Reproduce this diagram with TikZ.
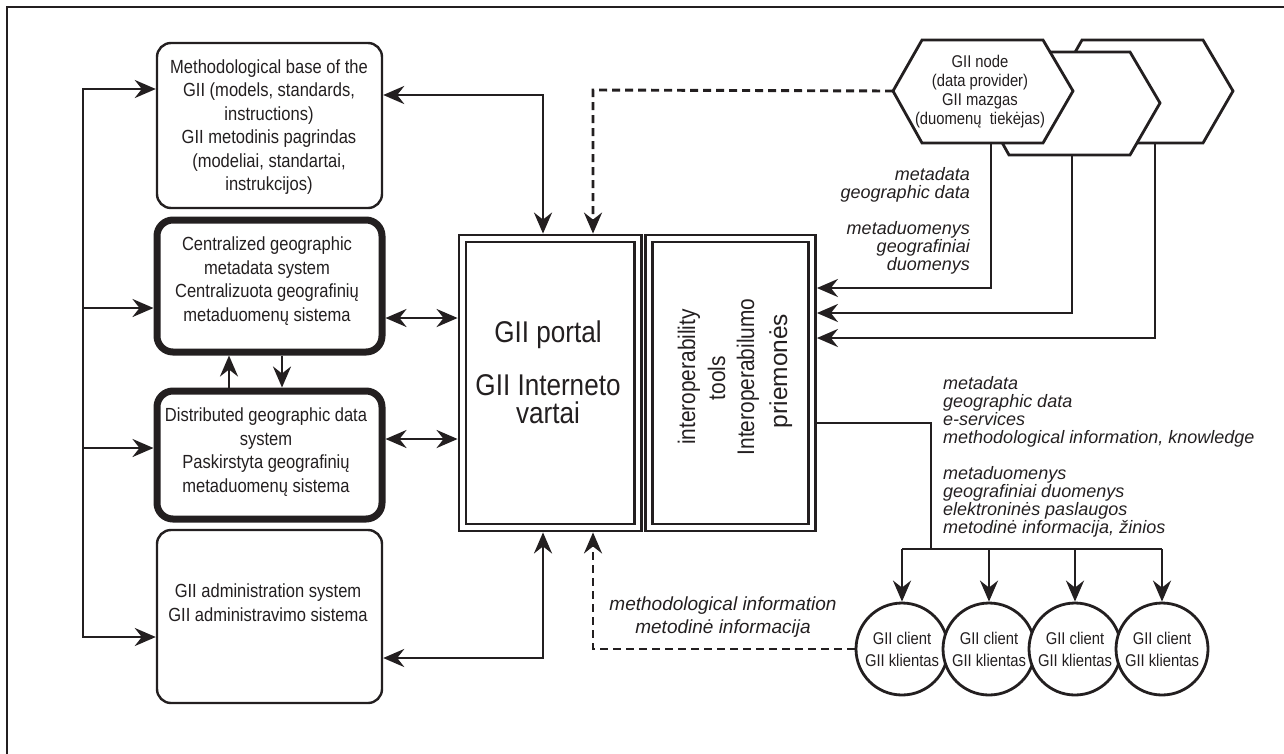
\documentclass[tikz,border=0pt]{standalone}
\usepackage{fontspec}
\setmainfont{Liberation Sans}[FakeStretch=0.87]
\newfontfamily\lblfont{Liberation Sans}
\usetikzlibrary{arrows.meta}
\definecolor{ink}{HTML}{231F20}
\tikzset{
  ln/.style={draw=ink, line width=2.9pt},
  arr/.style={ln, -{Stealth[length=21pt,width=18pt,inset=7pt]}},
  barr/.style={ln, {Stealth[length=21pt,width=18pt,inset=7pt]}-{Stealth[length=21pt,width=18pt,inset=7pt]}},
  dsh/.style={arr, dash pattern=on 8pt off 5pt},
  boxtext/.style={text=ink, align=center, inner sep=0pt, font=\fontsize{19}{23.5}\selectfont},
  thinbox/.style={draw=ink, line width=2.4pt, rounded corners=14pt, minimum width=225pt, inner sep=0pt},
  thickbox/.style={draw=ink, line width=7pt, rounded corners=16pt, minimum width=225pt, inner sep=0pt},
  dbl/.style={draw=ink, line width=2.8pt, double=white, double distance=4.2pt, outer sep=4.9pt, inner sep=0pt, minimum height=289pt},
  rot/.style={rotate=90, text=ink, inner sep=0pt, font=\fontsize{24}{24}\selectfont},
  hexline/.style={draw=ink, fill=white, line width=2.8pt, line join=miter},
  hextext/.style={text=ink, align=center, inner sep=0pt, font=\fontsize{17}{19}\selectfont},
  lbl/.style={text=ink, inner sep=0pt, font=\lblfont\itshape\fontsize{18}{18}\selectfont},
  lblc/.style={text=ink, inner sep=0pt, align=center, font=\lblfont\itshape\fontsize{19}{23}\selectfont},
  client/.style={circle, draw=ink, fill=white, line width=2.8pt, minimum size=92pt, inner sep=0pt, align=center, text=ink, font=\fontsize{17}{22}\selectfont},
}
\begin{document}
\begin{tikzpicture}[x=1pt, y=-1pt]
\useasboundingbox (0,0) rectangle (1284,753);
% frame
\draw[ink, line width=2.2pt] (7,760) -- (7,7) -- (1290,7);

% left boxes
\node[thinbox, minimum height=165pt] (meth) at (269.5,125.5) {};
\node[boxtext] (methT) at (269,127) {Methodological base of the\\GII (models, standards,\\instructions)\\GII metodinis pagrindas\\(modeliai, standartai,\\instrukcijos)};
\node[thickbox, minimum height=132pt] (cent) at (269.5,286) {};
\node[boxtext] (centT) at (267,281) {Centralized geographic\\metadata system\\Centralizuota geografinių\\metaduomenų sistema};
\node[thickbox, minimum height=128pt] (dist) at (269.5,455) {};
\node[boxtext] (distT) at (266,452) {Distributed geographic data\\system\\Paskirstyta geografinių\\metaduomenų sistema};
\node[thinbox, minimum height=173pt] (admin) at (269.5,616.5) {};
\node[boxtext] (adminT) at (268,602.5) {GII administration system\\GII administravimo sistema};

% portal and interoperability
\node[dbl, minimum width=175.5pt] (portal) at (550.25,383) {};
\node[text=ink, inner sep=0pt, font=\fontsize{30}{30}\selectfont, anchor=base] (portalT1) at (548,342) {GII portal};
\node[text=ink, inner sep=0pt, font=\fontsize{30}{30}\selectfont, anchor=base] (portalT2) at (548,395) {GII Interneto};
\node[text=ink, inner sep=0pt, font=\fontsize{30}{30}\selectfont, anchor=base] (portalT3) at (548,423) {vartai};
\node[dbl, minimum width=163pt] (interop) at (730.5,383) {};
\node[rot, anchor=base] (io1) at (695,377) {interoperability};
\node[rot, anchor=base] (io2) at (725,378) {tools};
\node[rot, anchor=base] (io3) at (754,377) {Interoperabilumo};
\node[rot, anchor=base, font=\lblfont\fontsize{24.5}{24.5}\selectfont] (io4) at (787,371) {priemonės};

% left bus
\coordinate (bT) at (83,89);
\coordinate (b2) at (83,308);
\coordinate (b3) at (83,448);
\coordinate (bB) at (83,637);
\draw[arr] (bB) -- (bT) -- (meth.west |- bT);
\draw[arr] (bT) -- (bB) -- (admin.west |- bB);
\draw[arr] (b2) -- (cent.west |- b2);
\draw[arr] (b3) -- (dist.west |- b3);

% between centralized and distributed
\coordinate (up) at (229,0);
\coordinate (dn) at (282,0);
\draw[arr] (dist.north -| up) -- (cent.south -| up);
\draw[arr] (cent.south -| dn) -- (dist.north -| dn);

% to portal
\coordinate (mA) at (543,95);
\draw[barr] (meth.east |- mA) -- (mA) -- (mA |- portal.north);
\coordinate (cA) at (0,318);
\draw[barr] (cent.east |- cA) -- (portal.west |- cA);
\coordinate (dA) at (0,439);
\draw[barr] (dist.east |- dA) -- (portal.west |- dA);
\coordinate (aA) at (543,658);
\draw[barr] (admin.east |- aA) -- (aA) -- (aA |- portal.south);

% hexagons (GII nodes)
\draw[hexline] (1053,91) -- (1082,40) -- (1203,40) -- (1233,91) -- (1203,143) -- (1082,143) -- cycle;
\draw[hexline] (980,103) -- (1009,52) -- (1130,52) -- (1160,103) -- (1130,155) -- (1009,155) -- cycle;
\draw[hexline] (893,91) -- (922,40) -- (1043,40) -- (1073,91) -- (1043,143) -- (922,143) -- cycle;
\coordinate (h1w) at (893,91);
\coordinate (h1b) at (991,143);
\coordinate (h2b) at (1072,155);
\coordinate (h3b) at (1155,143);
\node[hextext] (hexT) at (980,92) {GII node\\(data provider)\\GII mazgas\\(duomenų\ \ tiekėjas)};

\coordinate (r1) at (0,288);
\coordinate (r2) at (0,313);
\coordinate (r3) at (0,338);
\draw[arr] (h1b) |- (interop.east |- r1);
\draw[arr] (h2b) |- (interop.east |- r2);
\draw[arr] (h3b) |- (interop.east |- r3);

\coordinate (dT) at (593,90);
\draw[dsh] (h1w) -- (dT) -- (dT |- portal.north);

\node[lbl, anchor=base east, align=right] (lab1) at (970,198) {metadata\\geographic data};
\node[lbl, anchor=base east, align=right] (lab2) at (970,270) {metaduomenys\\geografiniai\\duomenys};

% clients
\node[client] (c1) at (902,649) {GII client\\GII klientas};
\node[client] (c2) at (989,649) {GII client\\GII klientas};
\node[client] (c3) at (1075,649) {GII client\\GII klientas};
\node[client] (c4) at (1162,649) {GII client\\GII klientas};

\coordinate (tA) at (931,423);
\coordinate (tB) at (931,549);
\draw[ln] (interop.east |- tA) -- (tA) -- (tB);
\draw[ln] (c1.north |- tB) -- (c4.north |- tB);
\draw[arr] (c1.north |- tB) -- (c1.north);
\draw[arr] (c2.north |- tB) -- (c2.north);
\draw[arr] (c3.north |- tB) -- (c3.north);
\draw[arr] (c4.north |- tB) -- (c4.north);

\node[lbl, anchor=base west, align=left] (lab3) at (943,443) {metadata\\geographic data\\e-services\\methodological information, knowledge};
\node[lbl, anchor=base west, align=left] (lab4) at (943,533) {metaduomenys\\geografiniai duomenys\\elektroninės paslaugos\\metodinė informacija, žinios};

\coordinate (eA) at (593,651);
\draw[dsh] (c1.west) -- (c1.west -| eA) -- (eA |- portal.south);
\node[lblc] (lab5) at (723,617) {methodological information\\metodinė informacija};
\end{tikzpicture}
\end{document}
